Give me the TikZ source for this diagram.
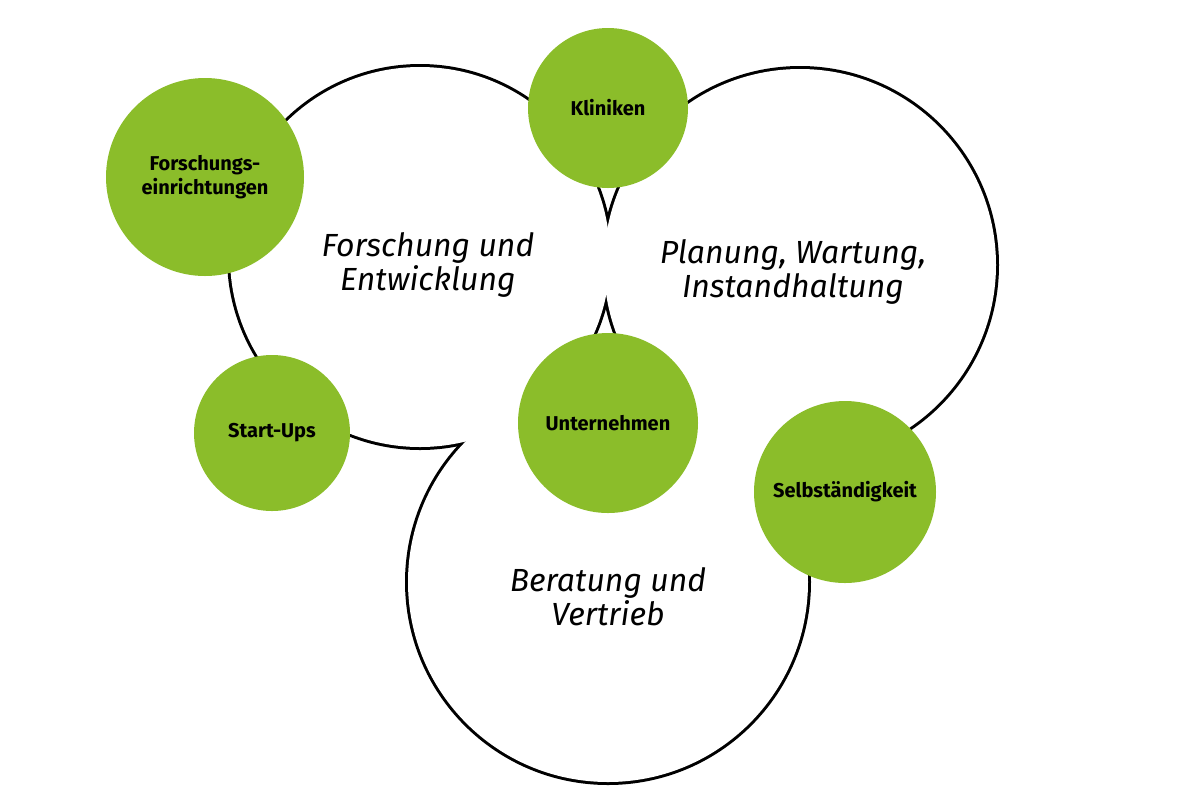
\documentclass[tikz,border=0pt]{standalone}
\usepackage{fontspec}
\setmainfont{Fira Sans}
\begin{document}
\begin{tikzpicture}[x=0.5pt,y=-0.5pt,
  big/.style={circle,minimum size=#1*1pt,inner sep=0pt},
  grn/.style={circle,fill=leaf,minimum size=#1*1pt,inner sep=0pt,font=\fontsize{10}{12}\selectfont\bfseries,align=center},
  lbl/.style={font=\fontsize{16}{17}\selectfont\itshape,align=center}]
\definecolor{leaf}{HTML}{8BBD2A}
\useasboundingbox (0,0) rectangle (1200,800);
\node[big=190] (c1) at (420,257) {};
\node[big=196] (c2) at (800,265) {};
\node[big=200] (c3) at (608,582) {};
\draw[line width=3pt] (c1.center) circle[radius=95pt];
\draw[line width=3pt] (c2.center) circle[radius=98pt];
\draw[line width=3pt] (c3.center) circle[radius=100pt];
\fill[white] (c1.center) circle[radius=95pt];
\fill[white] (c2.center) circle[radius=98pt];
\fill[white] (c3.center) circle[radius=100pt];
\node[lbl] (t1) at (428,265) {Forschung und\\Entwicklung};
\node[lbl] (t2) at (793,272) {Planung, Wartung,\\Instandhaltung};
\node[lbl] (t3) at (608,597) {Beratung und\\Vertrieb};
\node[grn=80] (k) at (608,108) {Kliniken};
\node[grn=99] (f) at (205,177) {Forschungs-\\einrichtungen};
\node[grn=78] (s) at (272,433) {Start-Ups};
\node[grn=90] (u) at (608,423) {Unternehmen};
\node[grn=91] (b) at (845,492) {Selbständigkeit};
\end{tikzpicture}
\end{document}
